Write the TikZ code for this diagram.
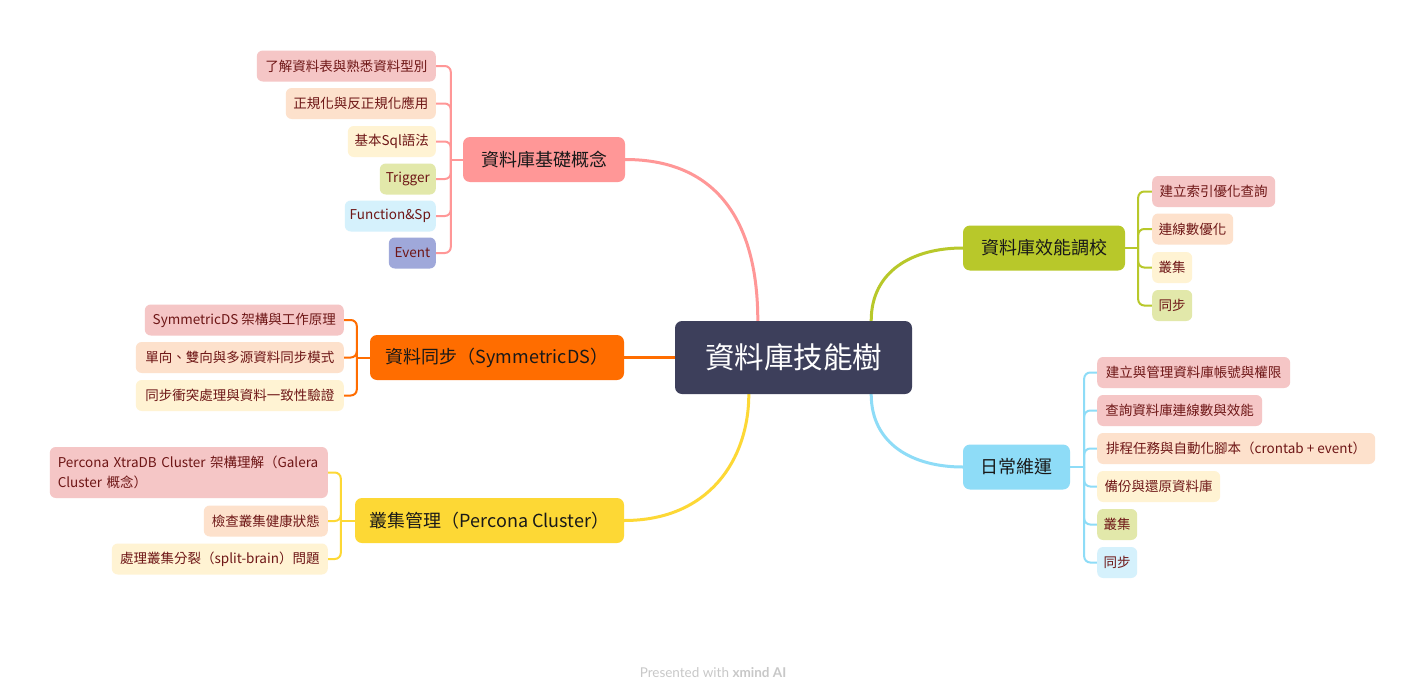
\documentclass[tikz,border=0pt]{standalone}
\usepackage{fontspec}
\setmainfont{Noto Sans CJK TC}
\newfontfamily\footfont{Lato}
\usetikzlibrary{backgrounds}
\definecolor{cO}{HTML}{3D3F5B}
\definecolor{cA}{HTML}{FF9797}
\definecolor{cB}{HTML}{FF6D00}
\definecolor{cC}{HTML}{FDD835}
\definecolor{cD}{HTML}{B8C82A}
\definecolor{cE}{HTML}{8EDCF7}
\definecolor{fPink}{HTML}{F5C6C6}
\definecolor{fPeach}{HTML}{FDE1CC}
\definecolor{fCream}{HTML}{FFF3D3}
\definecolor{fOlive}{HTML}{E2E8AA}
\definecolor{fBlue}{HTML}{D5F1FC}
\definecolor{fLav}{HTML}{9FA8DA}
\definecolor{subtxt}{HTML}{6E1616}
\definecolor{footgray}{HTML}{C8C8C8}
\tikzset{
  ctrbox/.style={fill=cO, rounded corners=7pt, text=white, inner xsep=4pt, inner ysep=0pt,
    font=\fontsize{29.5}{34}\selectfont},
  mainbox/.style={rounded corners=7pt, minimum height=45pt, inner xsep=4pt, inner ysep=0pt,
    text=black!90, font=\fontsize{18}{22}\selectfont},
  subbox/.style={rounded corners=6pt, minimum height=31pt, inner xsep=4pt, inner ysep=0pt,
    text=subtxt, font=\fontsize{13.5}{16}\selectfont},
  mainln/.style={line width=3pt},
  subln/.style={line width=2pt, rounded corners=6pt},
}
\begin{document}
\begin{tikzpicture}[x=1pt,y=-1pt]
\useasboundingbox (0,0) rectangle (1425,699);
% center
\node[ctrbox, minimum width=237, minimum height=73] (O) at (793.5,357.5) {資料庫技能樹};
% main branches
\node[mainbox, fill=cA, minimum width=162] (A) at (544,159.5) {資料庫基礎概念};
\node[mainbox, fill=cB, minimum width=254] (B) at (497,357.5) {資料同步（SymmetricDS）};
\node[mainbox, fill=cC, minimum width=269] (C) at (489.5,520.5) {叢集管理（Percona Cluster）};
\node[mainbox, fill=cD, minimum width=162] (D) at (1044,248) {資料庫效能調校};
\node[mainbox, fill=cE, minimum width=107] (E) at (1016.5,467) {日常維運};
% A children
\node[subbox, fill=fPink, minimum width=179, anchor=east] (a1) at (436,66) {了解資料表與熟悉資料型別};
\node[subbox, fill=fPeach, minimum width=150, anchor=east] (a2) at (436,103.5) {正規化與反正規化應用};
\node[subbox, fill=fCream, minimum width=88, anchor=east] (a3) at (436,141.5) {基本Sql語法};
\node[subbox, fill=fOlive, minimum width=56, anchor=east] (a4) at (436,179) {Trigger};
\node[subbox, fill=fBlue, minimum width=91, anchor=east] (a5) at (436,216) {Function\&Sp};
\node[subbox, fill=fLav, minimum width=47, anchor=east] (a6) at (436,253) {Event};
% B children
\node[subbox, fill=fPink, minimum width=199, anchor=east] (b1) at (344,320) {SymmetricDS 架構與工作原理};
\node[subbox, fill=fPeach, minimum width=208, anchor=east] (b2) at (344,357.5) {單向、雙向與多源資料同步模式};
\node[subbox, fill=fCream, minimum width=208, anchor=east] (b3) at (344,395.5) {同步衝突處理與資料一致性驗證};
% C children
\node[subbox, fill=fPink, minimum height=51pt, inner xsep=8pt, text width=262pt, align=left,
  font=\fontsize{13.5}{20}\selectfont, anchor=east] (c1) at (328,472.5)
  {Percona XtraDB Cluster 架構理解（Galera\\Cluster 概念）};
\node[subbox, fill=fPeach, minimum width=124, anchor=east] (c2) at (328,521) {檢查叢集健康狀態};
\node[subbox, fill=fCream, minimum width=216, anchor=east] (c3) at (328,559) {處理叢集分裂（split-brain）問題};
% D children
\node[subbox, fill=fPink, minimum width=123, anchor=west] (d1) at (1152,191.5) {建立索引優化查詢};
\node[subbox, fill=fPeach, minimum width=81, anchor=west] (d2) at (1152,229) {連線數優化};
\node[subbox, fill=fCream, minimum width=40, anchor=west] (d3) at (1152,267.5) {叢集};
\node[subbox, fill=fOlive, minimum width=40, anchor=west] (d4) at (1152,305.5) {同步};
% E children
\node[subbox, fill=fPink, minimum width=193, anchor=west] (e1) at (1097,372.5) {建立與管理資料庫帳號與權限};
\node[subbox, fill=fPink, minimum width=165, anchor=west] (e2) at (1097,410.5) {查詢資料庫連線數與效能};
\node[subbox, fill=fPeach, minimum width=278, anchor=west] (e3) at (1097,448.5) {排程任務與自動化腳本（crontab + event）};
\node[subbox, fill=fCream, minimum width=123, anchor=west] (e4) at (1097,486.5) {備份與還原資料庫};
\node[subbox, fill=fOlive, minimum width=40, anchor=west] (e5) at (1097,524.5) {叢集};
\node[subbox, fill=fBlue, minimum width=40, anchor=west] (e6) at (1097,562.5) {同步};
% footer
\node[font=\footfont\fontsize{13.5}{16}\selectfont, text=footgray] (ft) at (713,673) {Presented with \textbf{xmind AI}};

\begin{pgfonlayer}{background}
\fill[white] (0,0) rectangle (1425,699);
% junction coordinates
\path (A.west) ++(-12,0) coordinate (jA);
\path (B.west) ++(-13,0) coordinate (jB);
\path (C.west) ++(-14,0) coordinate (jC);
\path (D.east) ++(13,0) coordinate (jD);
\path (E.east) ++(14,0) coordinate (jE);
\coordinate (oA) at ([xshift=83pt]O.north west);
\coordinate (oC) at ([xshift=74pt]O.south west);
\coordinate (oD) at ([xshift=-41pt]O.north east);
\coordinate (oE) at ([xshift=-41pt]O.south east);
% main connectors
\draw[mainln, draw=cA] (A.east) .. controls +(95,0) and +(0,-95) .. (oA);
\draw[mainln, draw=cB] (B.east) -- (O.west);
\draw[mainln, draw=cC] (C.east) .. controls +(85,0) and +(0,65) .. (oC);
\draw[mainln, draw=cD] (D.west) .. controls +(-50,0) and +(0,-50) .. (oD);
\draw[mainln, draw=cE] (E.west) .. controls +(-50,0) and +(0,50) .. (oE);
% sub connectors
\draw[subln, draw=cA] (A.west) -- (jA);
\foreach \n in {a1,a2,a3,a4,a5,a6} \draw[subln, draw=cA] (jA) |- (\n.east);
\draw[subln, draw=cB] (B.west) -- (jB);
\foreach \n in {b1,b2,b3} \draw[subln, draw=cB] (jB) |- (\n.east);
\draw[subln, draw=cC] (C.west) -- (jC);
\foreach \n in {c1,c2,c3} \draw[subln, draw=cC] (jC) |- (\n.east);
\draw[subln, draw=cD] (D.east) -- (jD);
\foreach \n in {d1,d2,d3,d4} \draw[subln, draw=cD] (jD) |- (\n.west);
\draw[subln, draw=cE] (E.east) -- (jE);
\foreach \n in {e1,e2,e3,e4,e5,e6} \draw[subln, draw=cE] (jE) |- (\n.west);
\end{pgfonlayer}
\end{tikzpicture}
\end{document}
